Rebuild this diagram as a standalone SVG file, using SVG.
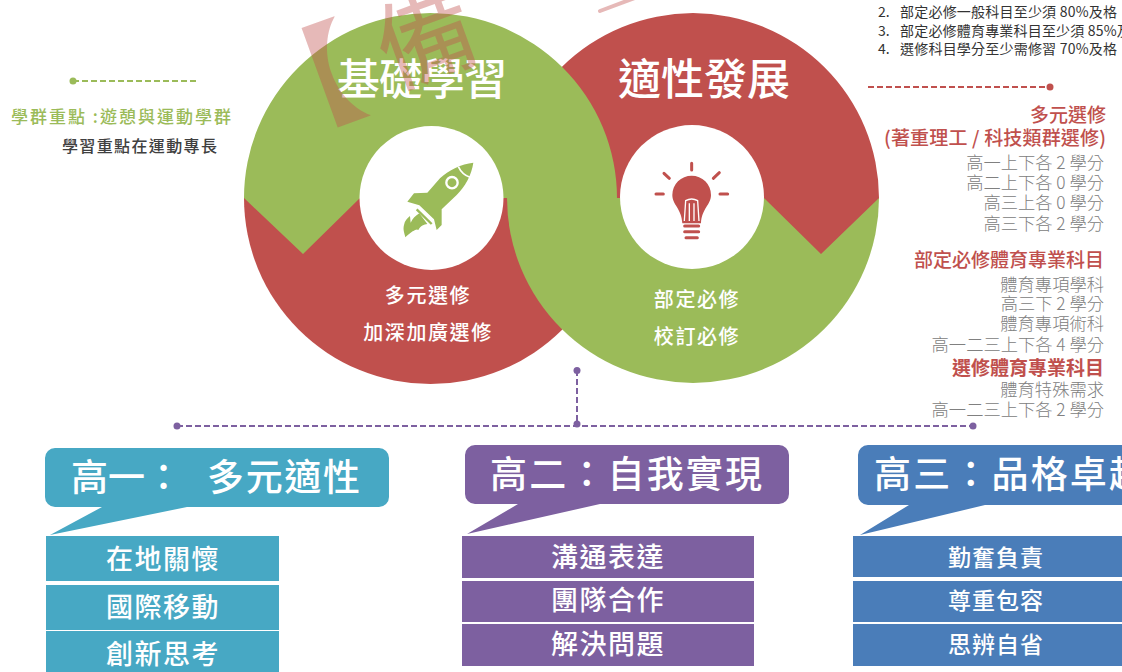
<svg xmlns="http://www.w3.org/2000/svg" width="1122" height="672" viewBox="0 0 1122 672">
<style>
text{font-family:"Noto Sans CJK TC","Noto Sans",sans-serif;dominant-baseline:central}
.big{font-size:43px;font-weight:500;fill:#fff}
.bub{font-size:37px;fill:#fff;font-weight:500}
.box1{font-size:27px;fill:#fff;font-weight:500;text-anchor:middle;letter-spacing:1.5px}
.box3{font-size:23px;fill:#fff;font-weight:500;text-anchor:middle;letter-spacing:1px}
.ring{font-size:20px;fill:#fff;font-weight:500;text-anchor:middle;letter-spacing:1.6px}
.lst{font-size:14px;fill:#333}
.red{font-size:19px;fill:#C0504D;font-weight:500;text-anchor:end}
.gry{font-size:17.300px;fill:#808080;font-weight:300;text-anchor:end}
.dash{fill:none;stroke-width:2;stroke-dasharray:6 3}
.wm{fill:#C0504D;fill-opacity:.4}
.teal{fill:#47A8C4}.purp{fill:#7D60A0}.blue{fill:#4A7DB9}
</style>
<g id="ring-shapes">
<path fill="#C0504D" d="M244 198A186.500 186 0 0 0 617 198Z"/>
<path fill="#9BBB59" d="M507 198A186 185 0 0 0 879 198Z"/>
<path fill="#C0504D" d="M507 198A186 185 0 0 1 879 198L821 254L764 198Z"/>
<path fill="#9BBB59" d="M244 198A186.500 185 0 0 1 617 198L360 198L303 254Z"/>
</g>
<g id="node-foundation">
<circle cx="431.500" cy="198" r="72" fill="#fff"/>
<g transform="translate(390 150) scale(.3333)" fill="#9BBB59">
<path d="M250 38C215 42 175 60 150 85L112 128L72 130L52 155L88 166L132 208L140 240L155 225L155 178L200 135C225 110 245 75 250 38Z"/>
<path d="M205 50C212 65 225 77 240 82" fill="none" stroke="#fff" stroke-width="5"/>
<circle cx="186" cy="98" r="17" fill="none" stroke="#fff" stroke-width="7"/>
<path d="M80 178L125 222" stroke="#9BBB59" stroke-width="7" fill="none"/>
<path d="M88 190L112 222C102 224 92 226 85 240C80 236 76 240 68 244C60 250 52 256 46 262C44 250 38 240 42 225C44 212 52 205 60 198L62 218C68 205 76 198 88 190Z"/>
</g>
<text class="big" x="337" y="76" textLength="170">基礎學習</text>
<text class="ring" x="428" y="294.500">多元選修</text>
<text class="ring" x="428" y="331.500">加深加廣選修</text>
</g>
<g id="node-aptitude">
<circle cx="692" cy="197" r="72" fill="#fff"/>
<g transform="translate(600 140) scale(.3333)">
<path fill="#C0504D" d="M217 165A58 58 0 1 1 333 165C333 195 305 205 303 250L247 250C245 205 217 195 217 165Z"/>
<path d="M253 243L257 182Q275 172 293 182L297 243M268 243L268 190M282 243L282 190" fill="none" stroke="#fff" stroke-width="4"/>
<path d="M254 258H296M254 275H296M258 293H292M275 70V90M192 100L208 115M340 115L358 98M168 162H190M360 162H383" fill="none" stroke="#C0504D" stroke-width="9" stroke-linecap="round"/>
</g>
<text class="big" x="618" y="76" textLength="172">適性發展</text>
<text class="ring" x="697" y="298.500">部定必修</text>
<text class="ring" x="697" y="335.500">校訂必修</text>
</g>
<g id="watermark">
<text class="wm" font-size="112" font-weight="700" transform="translate(248 97) rotate(-20)" x="0" y="0">【</text>
<text class="wm" font-size="98" font-weight="400" text-anchor="middle" transform="translate(423 32) rotate(-20)">備</text>
<path d="M600 11L640 -4" stroke="#C0504D" stroke-opacity=".4" stroke-width="4" stroke-linecap="round"/>
</g>
<g id="connectors">
<path class="dash" stroke="#9BBB59" d="M73 81H196"/>
<circle cx="73" cy="81" r="3.500" fill="#9BBB59"/>
<path class="dash" stroke="#C0504D" d="M868 87H1050"/>
<circle cx="1050" cy="87" r="3.500" fill="#C0504D"/>
<path class="dash" stroke="#7D60A0" d="M177 426H973M577 370V426"/>
<circle cx="177" cy="426" r="3.500" fill="#7D60A0"/>
<circle cx="973" cy="426" r="3.500" fill="#7D60A0"/>
<circle cx="577" cy="370.500" r="3.500" fill="#7D60A0"/>
<circle cx="577" cy="424" r="3.500" fill="#7D60A0"/>
</g>
<g id="node-left-note">
<text x="11" y="115" font-size="17" font-weight="500" fill="#9BBB59" textLength="220">學群重點 :遊憩與運動學群</text>
<text x="62" y="145" font-size="16" font-weight="500" fill="#404040" textLength="155">學習重點在運動專長</text>
</g>
<g id="node-requirements">
<text class="lst" x="878" y="11">2.</text><text class="lst" x="900" y="11" textLength="217">部定必修一般科目至少須 80%及格</text>
<text class="lst" x="878" y="30">3.</text><text class="lst" x="900" y="30" textLength="245">部定必修體育專業科目至少須 85%及格</text>
<text class="lst" x="878" y="48">4.</text><text class="lst" x="900" y="48" textLength="217">選修科目學分至少需修習 70%及格</text>
</g>
<g id="node-credits">
<text class="red" x="1106" y="113">多元選修</text>
<text class="red" x="884" y="136" style="text-anchor:start" textLength="222">(著重理工 / 科技類群選修)</text>
<text class="gry" x="1104" y="161">高一上下各 2 學分</text>
<text class="gry" x="1104" y="181">高二上下各 0 學分</text>
<text class="gry" x="1104" y="201.500">高三上各 0 學分</text>
<text class="gry" x="1104" y="222">高三下各 2 學分</text>
<text class="red" x="1104" y="258">部定必修體育專業科目</text>
<text class="gry" x="1104" y="283">體育專項學科</text>
<text class="gry" x="1104" y="302">高三下 2 學分</text>
<text class="gry" x="1104" y="322">體育專項術科</text>
<text class="gry" x="1104" y="343">高一二三上下各 4 學分</text>
<text class="red" x="1104" y="366" style="font-weight:700">選修體育專業科目</text>
<text class="gry" x="1104" y="388">體育特殊需求</text>
<text class="gry" x="1104" y="408">高一二三上下各 2 學分</text>
</g>
<g id="node-grade1">
<path class="teal" d="M55 448H379A10 10 0 0 1 389 458V497A10 10 0 0 1 379 507H187L50 535L102 507H55A10 10 0 0 1 45 497V458A10 10 0 0 1 55 448Z"/>
<text class="bub" x="71" y="475">高一：</text>
<text class="bub" x="207" y="475" textLength="153">多元適性</text>
<rect class="teal" x="46" y="536" width="233" height="45"/>
<rect class="teal" x="46" y="585" width="233" height="45"/>
<rect class="teal" x="46" y="631" width="233" height="41"/>
<text class="box1" x="163" y="557">在地關懷</text>
<text class="box1" x="163" y="605">國際移動</text>
<text class="box1" x="163" y="652">創新思考</text>
</g>
<g id="node-grade2">
<path class="purp" d="M475 445H779A10 10 0 0 1 789 455V494A10 10 0 0 1 779 504H600L467 534L518 504H475A10 10 0 0 1 465 494V455A10 10 0 0 1 475 445Z"/>
<text class="bub" x="490" y="472" textLength="272">高二：自我實現</text>
<rect class="purp" x="462" y="536" width="292" height="42"/>
<rect class="purp" x="462" y="581" width="292" height="41"/>
<rect class="purp" x="462" y="624" width="292" height="42"/>
<text class="box1" x="608" y="555.500">溝通表達</text>
<text class="box1" x="608" y="598.500">團隊合作</text>
<text class="box1" x="608" y="642.500">解決問題</text>
</g>
<g id="node-grade3">
<path class="blue" d="M868 445H1132V505H985L860 535L909 505H868A10 10 0 0 1 858 495V455A10 10 0 0 1 868 445Z"/>
<text class="bub" x="874" y="472" textLength="272">高三：品格卓越</text>
<rect class="blue" x="853" y="536" width="269" height="41"/>
<rect class="blue" x="853" y="581" width="269" height="41"/>
<rect class="blue" x="853" y="624" width="269" height="42"/>
<text class="box3" x="996" y="555.500">勤奮負責</text>
<text class="box3" x="996" y="598.500">尊重包容</text>
<text class="box3" x="996" y="642.500">思辨自省</text>
</g>
</svg>
